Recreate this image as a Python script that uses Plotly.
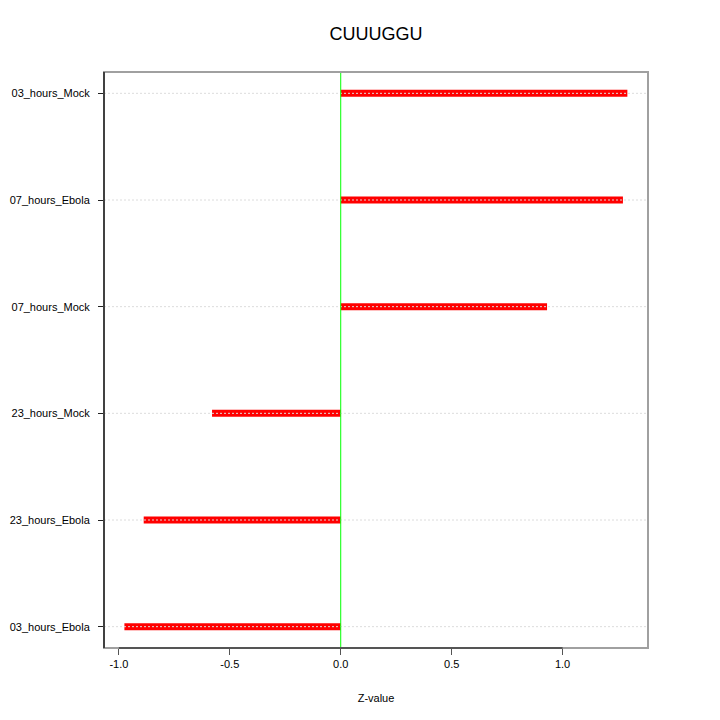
import plotly.graph_objects as go

title = "CUUUGGU"
categories = ["03_hours_Ebola", "23_hours_Ebola", "23_hours_Mock",
              "07_hours_Mock", "07_hours_Ebola", "03_hours_Mock"]
values = [-0.975, -0.888, -0.580, 0.930, 1.272, 1.292]
x_ticks = [-1.0, -0.5, 0.0, 0.5, 1.0]
x_tick_labels = ["-1.0", "-0.5", "0.0", "0.5", "1.0"]
x_range = [-1.067, 1.385]

FONT = "Liberation Sans, Arial, Helvetica, sans-serif"
W = H = 712  # page body has 8px margin

fig = go.Figure()
for cat, v in zip(categories, values):
    fig.add_trace(go.Scatter(
        x=[0, v], y=[cat, cat], mode="lines",
        line=dict(color="#ff0000", width=7),
        showlegend=False, hoverinfo="skip"))

shapes = []
for cat in categories:
    shapes.append(dict(type="line", xref="paper", x0=0, x1=1, yref="y", y0=cat, y1=cat,
                       line=dict(color="#dcdcdc", width=1, dash="2px,2px"), layer="above"))
shapes.append(dict(type="line", xref="x", x0=0, x1=0, yref="paper", y0=0, y1=1,
                   line=dict(color="#00ff00", width=1), layer="above"))
shapes.append(dict(type="rect", xref="paper", yref="paper", x0=0, x1=1, y0=0, y1=1,
                   line=dict(color="#a0a0a0", width=2), layer="above"))
shapes.append(dict(type="line", xref="x", x0=x_ticks[0], x1=x_ticks[-1], yref="paper", y0=0, y1=0,
                   line=dict(color="#555555", width=2), layer="above"))
shapes.append(dict(type="line", xref="paper", x0=0, x1=0, yref="paper", y0=0, y1=1,
                   line=dict(color="#222222", width=1.5), layer="above"))

fig.update_layout(
    width=W, height=H,
    margin=dict(l=96, r=72, t=64, b=72, autoexpand=False),
    paper_bgcolor="white", plot_bgcolor="white",
    title=dict(text=title, x=(376 - 8) / W, xanchor="center", y=1 - 26 / H, yanchor="middle",
               font=dict(family=FONT, size=18, color="black")),
    font=dict(family=FONT, size=11, color="black"),
    shapes=shapes,
)
fig.update_xaxes(
    range=x_range, tickvals=x_ticks, ticktext=x_tick_labels, automargin=False,
    showgrid=False, zeroline=False, showline=False,
    ticks="outside", ticklen=6, tickcolor="#555555", tickwidth=1,
    tickfont=dict(family=FONT, size=11, color="black"),
    title=dict(text="Z-value", font=dict(family=FONT, size=11, color="black"), standoff=25),
)
fig.update_yaxes(
    type="category", categoryorder="array", categoryarray=categories, automargin=False,
    range=[-0.2, 5.2], showgrid=False, zeroline=False, showline=False,
    ticks="outside", ticklen=5, tickcolor="#222222", tickwidth=1,
    ticklabelstandoff=6,
    tickfont=dict(family=FONT, size=11, color="black"),
)

fig.write_html("out.html")
